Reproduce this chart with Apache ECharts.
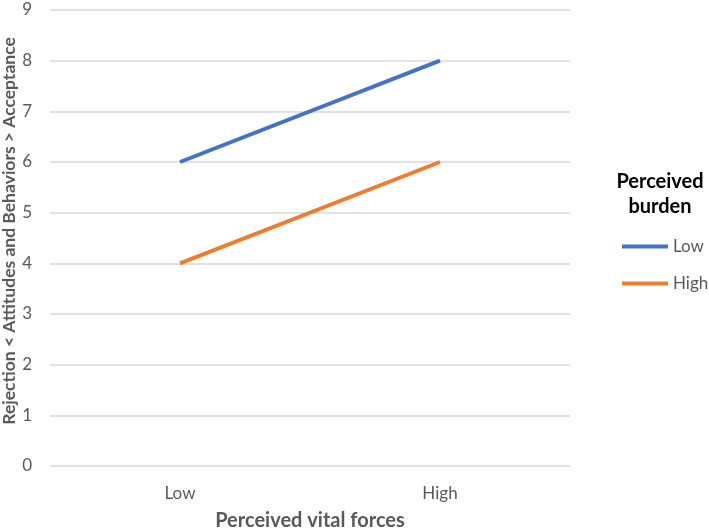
<!DOCTYPE html>
<html><head><meta charset="utf-8">
<script src="https://cdn.jsdelivr.net/npm/echarts@6/dist/echarts.min.js"></script>
<style>html,body{margin:0;padding:0;background:#fff}#c{width:709px;height:530px}</style>
</head><body><div id="c"></div>
<script>
const categories = ['Low', 'High'];
const lowBurden = [6, 8];
const highBurden = [4, 6];
const seriesNames = ['Low', 'High'];
const FONT = 'Lato';
const chart = echarts.init(document.getElementById('c'));
chart.setOption({
  backgroundColor: '#fff',
  animation: false,
  grid: {left: 50, right: 139, top: 10, bottom: 64, containLabel: false, outerBoundsMode: 'none'},
  xAxis: {
    type: 'category', data: categories, boundaryGap: true,
    axisLine: {show: false}, axisTick: {show: false},
    axisLabel: {color: '#595959', fontFamily: FONT, fontSize: 17, margin: 19},
    name: 'Perceived vital forces', nameLocation: 'middle', nameGap: 45,
    nameTextStyle: {color: '#595959', fontFamily: FONT, fontSize: 20, fontWeight: 'bold'}
  },
  yAxis: {
    type: 'value', min: 0, max: 9, interval: 1,
    axisLine: {show: false}, axisTick: {show: false},
    splitLine: {lineStyle: {color: '#D9D9D9', width: 1.5}},
    axisLabel: {color: '#595959', fontFamily: FONT, fontSize: 17, margin: 18},
    name: 'Rejection < Attitudes and Behaviors > Acceptance', nameLocation: 'middle', nameGap: 32,
    nameMoveOverlap: false,
    nameTextStyle: {color: '#595959', fontFamily: FONT, fontSize: 17.5, fontWeight: 'bold', padding: [0, 0, 0, 14]}
  },
  legend: {
    orient: 'vertical', left: 622, top: 238, itemGap: 20, padding: 0,
    itemWidth: 46, itemHeight: 4, icon: 'rect',
    textStyle: {color: '#595959', fontFamily: FONT, fontSize: 17},
    data: seriesNames
  },
  graphic: [
    {type: 'text', x: 660, y: 182, style: {text: 'Perceived', fill: '#000', font: 'bold 20px Lato', textAlign: 'center', textVerticalAlign: 'middle'}},
    {type: 'text', x: 660, y: 207, style: {text: 'burden', fill: '#000', font: 'bold 20px Lato', textAlign: 'center', textVerticalAlign: 'middle'}}
  ],
  series: [
    {name: seriesNames[0], type: 'line', data: lowBurden, symbol: 'none', lineStyle: {width: 4, color: '#4472C4'}, itemStyle: {color: '#4472C4'}},
    {name: seriesNames[1], type: 'line', data: highBurden, symbol: 'none', lineStyle: {width: 4, color: '#ED7D31'}, itemStyle: {color: '#ED7D31'}}
  ]
});
</script></body></html>
